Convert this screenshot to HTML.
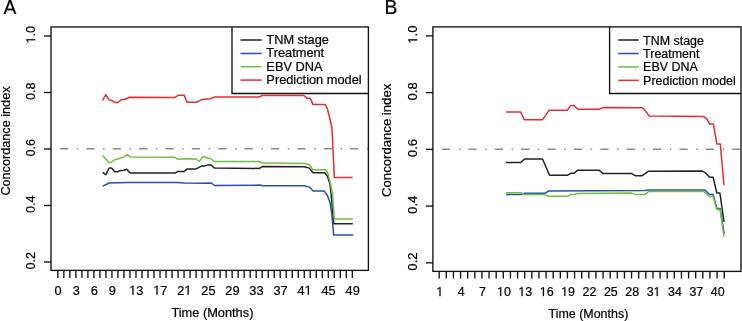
<!DOCTYPE html>
<html><head><meta charset="utf-8"><style>
html,body{margin:0;padding:0;background:#fff;width:742px;height:321px;overflow:hidden}
svg{display:block;will-change:transform}
text{font-family:"Liberation Sans", sans-serif;font-size:13.0px;fill:#000;stroke:#000;stroke-width:0.22px}
path{fill:#000;stroke:#000;stroke-width:0.22px;vector-effect:non-scaling-stroke}
</style></head><body>
<svg width="742" height="321" viewBox="0 0 742 321">
<line x1="59.95" y1="148.8" x2="368.4" y2="148.8" stroke="#8a8a8a" stroke-width="1.5" stroke-dasharray="8.25 8.55 1.45 8.13"/>
<polyline points="102.7,172.4 105.7,174.7 109.2,168.1 111.5,168.1 114.8,171.8 117.3,171.8 120.4,170.6 124.2,170.3 126.9,169.3 130.1,172.9 175.5,172.9 178,171.4 184.2,171.4 187.3,168.9 196.2,168.9 201.8,165.9 204.9,165.9 208,164.9 211.2,164.9 214.3,168.1 259.3,168.4 262.4,166.6 304.4,166.8 309.3,168.1 313.1,172.8 324.9,172.8 327.4,176.2 329.9,183.7 331.2,195 333.7,223.8 352.8,223.8" fill="none" stroke="#222222" stroke-width="1.5" stroke-linejoin="round"/>
<polyline points="102.7,186.1 109.2,183 127.9,182.4 176.1,182.6 184.8,183 202.5,183.3 211.2,183 214.5,185.5 260,185.1 262.4,185.7 304.4,185.7 309.3,187.1 313.1,191.1 324.3,191.1 327.1,195 330,202.4 331.8,213.6 333.7,235.1 353.3,235.1" fill="none" stroke="#2552a8" stroke-width="1.5" stroke-linejoin="round"/>
<polyline points="102.7,155.6 108.6,162.5 111.1,162.5 114.8,159.7 117.3,159.3 120.4,157.9 124.2,156.9 127.3,154.4 130.1,157.1 174.85,157.3 178,159.3 187.3,158.7 196.2,159 199.3,161.5 202.5,156.8 204.9,156.8 208,158.5 210.5,158.5 214.3,161.5 258.7,161.5 262.4,163.1 305,163.5 309.3,164.7 313.1,169.7 325.5,169.7 328,173.7 330.5,183.7 332.6,195 334.3,219 352.8,219" fill="none" stroke="#70be44" stroke-width="1.5" stroke-linejoin="round"/>
<polyline points="102.5,100.5 105.8,94.6 109,99.9 111.7,100.3 115,102.4 118.2,102.4 121.4,99.7 124.1,99.5 130,97.25 174.9,97.4 178.3,95.35 184.2,95.35 187.1,102.3 196.4,102.25 201.8,99.6 210.4,98.8 214.5,96.9 259.2,96.9 262.25,95.5 303.8,95.5 307,98.15 310.2,98.15 313.1,104.6 325.2,104.5 327.5,109.2 330,119.2 331.8,126.7 332.5,138 334.3,177.4 352.7,177.4" fill="none" stroke="#e32d36" stroke-width="1.5" stroke-linejoin="round"/>
<rect x="51" y="26.95" width="317.4" height="243.45" fill="none" stroke="#111" stroke-width="1.35"/>
<polyline points="232,26.95 232,93.45 368.4,93.45" fill="none" stroke="#111" stroke-width="1.35"/>
<line x1="240.5" y1="40" x2="261.7" y2="40" stroke="#222222" stroke-width="1.5"/>
<text transform="translate(266.35,44) scale(0.985,1)">TNM stage</text>
<line x1="240.5" y1="53.45" x2="261.7" y2="53.45" stroke="#2552a8" stroke-width="1.5"/>
<text transform="translate(266.35,57.45) scale(0.985,1)">Treatment</text>
<line x1="240.5" y1="66.7" x2="261.7" y2="66.7" stroke="#70be44" stroke-width="1.5"/>
<text transform="translate(266.35,70.7) scale(0.985,1)">EBV DNA</text>
<line x1="240.5" y1="80.1" x2="261.7" y2="80.1" stroke="#e32d36" stroke-width="1.5"/>
<text transform="translate(266.35,84.1) scale(0.985,1)">Prediction model</text>
<line x1="44" y1="262" x2="51" y2="262" stroke="#111" stroke-width="1.35"/>
<text transform="translate(35.25,260.7) rotate(-90) scale(0.975,1)" text-anchor="middle">0.2</text>
<line x1="44" y1="205.5" x2="51" y2="205.5" stroke="#111" stroke-width="1.35"/>
<text transform="translate(35.25,204.2) rotate(-90) scale(0.975,1)" text-anchor="middle">0.4</text>
<line x1="44" y1="149" x2="51" y2="149" stroke="#111" stroke-width="1.35"/>
<text transform="translate(35.25,147.7) rotate(-90) scale(0.975,1)" text-anchor="middle">0.6</text>
<line x1="44" y1="92.5" x2="51" y2="92.5" stroke="#111" stroke-width="1.35"/>
<text transform="translate(35.25,91.2) rotate(-90) scale(0.975,1)" text-anchor="middle">0.8</text>
<line x1="44" y1="36" x2="51" y2="36" stroke="#111" stroke-width="1.35"/>
<g transform="translate(35.25,34.7) rotate(-90) scale(0.975,1)"><text text-anchor="middle"> .0</text><path transform="translate(-9.04,0) scale(0.006348,-0.006348)" d="M515,0L515,1237L197,1010L197,1180L530,1409L696,1409L696,0Z"/></g>
<line x1="57.85" y1="270.4" x2="57.85" y2="278" stroke="#111" stroke-width="1.35"/>
<line x1="63.86" y1="270.4" x2="63.86" y2="278" stroke="#111" stroke-width="1.35"/>
<line x1="69.87" y1="270.4" x2="69.87" y2="278" stroke="#111" stroke-width="1.35"/>
<line x1="75.88" y1="270.4" x2="75.88" y2="278" stroke="#111" stroke-width="1.35"/>
<line x1="81.89" y1="270.4" x2="81.89" y2="278" stroke="#111" stroke-width="1.35"/>
<line x1="87.9" y1="270.4" x2="87.9" y2="278" stroke="#111" stroke-width="1.35"/>
<line x1="93.91" y1="270.4" x2="93.91" y2="278" stroke="#111" stroke-width="1.35"/>
<line x1="99.92" y1="270.4" x2="99.92" y2="278" stroke="#111" stroke-width="1.35"/>
<line x1="105.93" y1="270.4" x2="105.93" y2="278" stroke="#111" stroke-width="1.35"/>
<line x1="111.94" y1="270.4" x2="111.94" y2="278" stroke="#111" stroke-width="1.35"/>
<line x1="117.95" y1="270.4" x2="117.95" y2="278" stroke="#111" stroke-width="1.35"/>
<line x1="123.96" y1="270.4" x2="123.96" y2="278" stroke="#111" stroke-width="1.35"/>
<line x1="129.97" y1="270.4" x2="129.97" y2="278" stroke="#111" stroke-width="1.35"/>
<line x1="135.98" y1="270.4" x2="135.98" y2="278" stroke="#111" stroke-width="1.35"/>
<line x1="141.99" y1="270.4" x2="141.99" y2="278" stroke="#111" stroke-width="1.35"/>
<line x1="148" y1="270.4" x2="148" y2="278" stroke="#111" stroke-width="1.35"/>
<line x1="154.01" y1="270.4" x2="154.01" y2="278" stroke="#111" stroke-width="1.35"/>
<line x1="160.02" y1="270.4" x2="160.02" y2="278" stroke="#111" stroke-width="1.35"/>
<line x1="166.03" y1="270.4" x2="166.03" y2="278" stroke="#111" stroke-width="1.35"/>
<line x1="172.04" y1="270.4" x2="172.04" y2="278" stroke="#111" stroke-width="1.35"/>
<line x1="178.05" y1="270.4" x2="178.05" y2="278" stroke="#111" stroke-width="1.35"/>
<line x1="184.06" y1="270.4" x2="184.06" y2="278" stroke="#111" stroke-width="1.35"/>
<line x1="190.07" y1="270.4" x2="190.07" y2="278" stroke="#111" stroke-width="1.35"/>
<line x1="196.08" y1="270.4" x2="196.08" y2="278" stroke="#111" stroke-width="1.35"/>
<line x1="202.09" y1="270.4" x2="202.09" y2="278" stroke="#111" stroke-width="1.35"/>
<line x1="208.1" y1="270.4" x2="208.1" y2="278" stroke="#111" stroke-width="1.35"/>
<line x1="214.11" y1="270.4" x2="214.11" y2="278" stroke="#111" stroke-width="1.35"/>
<line x1="220.12" y1="270.4" x2="220.12" y2="278" stroke="#111" stroke-width="1.35"/>
<line x1="226.13" y1="270.4" x2="226.13" y2="278" stroke="#111" stroke-width="1.35"/>
<line x1="232.14" y1="270.4" x2="232.14" y2="278" stroke="#111" stroke-width="1.35"/>
<line x1="238.15" y1="270.4" x2="238.15" y2="278" stroke="#111" stroke-width="1.35"/>
<line x1="244.16" y1="270.4" x2="244.16" y2="278" stroke="#111" stroke-width="1.35"/>
<line x1="250.17" y1="270.4" x2="250.17" y2="278" stroke="#111" stroke-width="1.35"/>
<line x1="256.18" y1="270.4" x2="256.18" y2="278" stroke="#111" stroke-width="1.35"/>
<line x1="262.19" y1="270.4" x2="262.19" y2="278" stroke="#111" stroke-width="1.35"/>
<line x1="268.2" y1="270.4" x2="268.2" y2="278" stroke="#111" stroke-width="1.35"/>
<line x1="274.21" y1="270.4" x2="274.21" y2="278" stroke="#111" stroke-width="1.35"/>
<line x1="280.22" y1="270.4" x2="280.22" y2="278" stroke="#111" stroke-width="1.35"/>
<line x1="286.23" y1="270.4" x2="286.23" y2="278" stroke="#111" stroke-width="1.35"/>
<line x1="292.24" y1="270.4" x2="292.24" y2="278" stroke="#111" stroke-width="1.35"/>
<line x1="298.25" y1="270.4" x2="298.25" y2="278" stroke="#111" stroke-width="1.35"/>
<line x1="304.26" y1="270.4" x2="304.26" y2="278" stroke="#111" stroke-width="1.35"/>
<line x1="310.27" y1="270.4" x2="310.27" y2="278" stroke="#111" stroke-width="1.35"/>
<line x1="316.28" y1="270.4" x2="316.28" y2="278" stroke="#111" stroke-width="1.35"/>
<line x1="322.29" y1="270.4" x2="322.29" y2="278" stroke="#111" stroke-width="1.35"/>
<line x1="328.3" y1="270.4" x2="328.3" y2="278" stroke="#111" stroke-width="1.35"/>
<line x1="334.31" y1="270.4" x2="334.31" y2="278" stroke="#111" stroke-width="1.35"/>
<line x1="340.32" y1="270.4" x2="340.32" y2="278" stroke="#111" stroke-width="1.35"/>
<line x1="346.33" y1="270.4" x2="346.33" y2="278" stroke="#111" stroke-width="1.35"/>
<line x1="352.34" y1="270.4" x2="352.34" y2="278" stroke="#111" stroke-width="1.35"/>
<text transform="translate(58.15,294.7) scale(0.985,1)" text-anchor="middle">0</text>
<text transform="translate(76.18,294.7) scale(0.985,1)" text-anchor="middle">3</text>
<text transform="translate(94.21,294.7) scale(0.985,1)" text-anchor="middle">6</text>
<text transform="translate(112.24,294.7) scale(0.985,1)" text-anchor="middle">9</text>
<g transform="translate(136.28,294.7) scale(0.985,1)"><text text-anchor="middle"> 3</text><path transform="translate(-7.23,0) scale(0.006348,-0.006348)" d="M515,0L515,1237L197,1010L197,1180L530,1409L696,1409L696,0Z"/></g>
<g transform="translate(160.32,294.7) scale(0.985,1)"><text text-anchor="middle"> 7</text><path transform="translate(-7.23,0) scale(0.006348,-0.006348)" d="M515,0L515,1237L197,1010L197,1180L530,1409L696,1409L696,0Z"/></g>
<g transform="translate(184.36,294.7) scale(0.985,1)"><text text-anchor="middle">2 </text><path transform="translate(0,0) scale(0.006348,-0.006348)" d="M515,0L515,1237L197,1010L197,1180L530,1409L696,1409L696,0Z"/></g>
<text transform="translate(208.4,294.7) scale(0.985,1)" text-anchor="middle">25</text>
<text transform="translate(232.44,294.7) scale(0.985,1)" text-anchor="middle">29</text>
<text transform="translate(256.48,294.7) scale(0.985,1)" text-anchor="middle">33</text>
<text transform="translate(280.52,294.7) scale(0.985,1)" text-anchor="middle">37</text>
<g transform="translate(304.56,294.7) scale(0.985,1)"><text text-anchor="middle">4 </text><path transform="translate(0,0) scale(0.006348,-0.006348)" d="M515,0L515,1237L197,1010L197,1180L530,1409L696,1409L696,0Z"/></g>
<text transform="translate(328.6,294.7) scale(0.985,1)" text-anchor="middle">45</text>
<text transform="translate(352.64,294.7) scale(0.985,1)" text-anchor="middle">49</text>
<text transform="translate(212.4,316.5) scale(0.985,1)" text-anchor="middle">Time (Months)</text>
<text transform="translate(9.6,141.05) rotate(-90) scale(0.975,1)" text-anchor="middle">Concordance index</text>
<text transform="translate(3.5,14) scale(1,1)" style="font-size:19.3px">A</text>
<line x1="442" y1="149.3" x2="741" y2="149.3" stroke="#8a8a8a" stroke-width="1.5" stroke-dasharray="8.25 8.55 1.45 8.13"/>
<polyline points="505.8,162.5 520.7,162.5 524.6,159 542.5,159 549.5,175.2 567.3,175.3 570.7,173.3 573.9,173.3 577.7,170.2 599.2,170.2 603,173.6 631.7,173.6 635.2,175.7 642.3,175.7 648.6,171.2 702.5,171 705.6,173.1 709.7,177.2 713.1,177.2 716.8,193 719.9,193 724,221.9" fill="none" stroke="#222222" stroke-width="1.5" stroke-linejoin="round"/>
<polyline points="505.8,194.4 521.4,194.4 524,193.35 544.9,193.35 548.9,191 644,190.4 650,189.9 705.1,189.9 709.3,194.6 713.1,194.6 716.8,208.4 720.1,208.4 724.2,233.9" fill="none" stroke="#2552a8" stroke-width="1.5" stroke-linejoin="round"/>
<polyline points="505.8,192.8 521.4,192.8 524,194.4 542.8,194.4 548.5,196.3 567.6,196.3 570.7,194.4 573.9,194.4 577.7,193.4 631.7,193.1 635.2,194.4 645,194.4 648.6,191.6 704.2,191.6 709.3,196.5 713.1,196.5 716.8,209.6 720.1,209.6 724,236.6" fill="none" stroke="#70be44" stroke-width="1.5" stroke-linejoin="round"/>
<polyline points="505.8,111.9 520.5,111.9 524.3,119.7 542.4,119.7 545.5,115.6 549.2,110.2 567.3,110.2 570.6,105.6 574,105.6 578.1,109.3 599.3,109.3 603,107.5 641.9,107.7 644.2,109.3 649.3,116.1 703.1,116.5 706.2,118.2 709.7,124 713.4,124 716.8,143.9 720.3,143.9 724,185.2" fill="none" stroke="#e32d36" stroke-width="1.5" stroke-linejoin="round"/>
<rect x="432.9" y="26.9" width="308.1" height="244.5" fill="none" stroke="#111" stroke-width="1.35"/>
<polyline points="609.6,26.9 609.6,93.45 741,93.45" fill="none" stroke="#111" stroke-width="1.35"/>
<line x1="618.1" y1="40" x2="638.8" y2="40" stroke="#222222" stroke-width="1.5"/>
<text transform="translate(643.1,44.5) scale(0.958,1)">TNM stage</text>
<line x1="618.1" y1="53.5" x2="638.8" y2="53.5" stroke="#2552a8" stroke-width="1.5"/>
<text transform="translate(643.1,58) scale(0.958,1)">Treatment</text>
<line x1="618.1" y1="66.9" x2="638.8" y2="66.9" stroke="#70be44" stroke-width="1.5"/>
<text transform="translate(643.1,71.4) scale(0.958,1)">EBV DNA</text>
<line x1="618.1" y1="80.35" x2="638.8" y2="80.35" stroke="#e32d36" stroke-width="1.5"/>
<text transform="translate(643.1,84.85) scale(0.958,1)">Prediction model</text>
<line x1="426" y1="262.8" x2="432.9" y2="262.8" stroke="#111" stroke-width="1.35"/>
<text transform="translate(417.2,261.5) rotate(-90) scale(1.012,1)" text-anchor="middle">0.2</text>
<line x1="426" y1="206.08" x2="432.9" y2="206.08" stroke="#111" stroke-width="1.35"/>
<text transform="translate(417.2,204.78) rotate(-90) scale(1.012,1)" text-anchor="middle">0.4</text>
<line x1="426" y1="149.35" x2="432.9" y2="149.35" stroke="#111" stroke-width="1.35"/>
<text transform="translate(417.2,148.05) rotate(-90) scale(1.012,1)" text-anchor="middle">0.6</text>
<line x1="426" y1="92.62" x2="432.9" y2="92.62" stroke="#111" stroke-width="1.35"/>
<text transform="translate(417.2,91.33) rotate(-90) scale(1.012,1)" text-anchor="middle">0.8</text>
<line x1="426" y1="35.9" x2="432.9" y2="35.9" stroke="#111" stroke-width="1.35"/>
<g transform="translate(417.2,34.6) rotate(-90) scale(1.012,1)"><text text-anchor="middle"> .0</text><path transform="translate(-9.04,0) scale(0.006348,-0.006348)" d="M515,0L515,1237L197,1010L197,1180L530,1409L696,1409L696,0Z"/></g>
<line x1="439.2" y1="271.4" x2="439.2" y2="278.5" stroke="#111" stroke-width="1.35"/>
<line x1="446.32" y1="271.4" x2="446.32" y2="278.5" stroke="#111" stroke-width="1.35"/>
<line x1="453.45" y1="271.4" x2="453.45" y2="278.5" stroke="#111" stroke-width="1.35"/>
<line x1="460.57" y1="271.4" x2="460.57" y2="278.5" stroke="#111" stroke-width="1.35"/>
<line x1="467.7" y1="271.4" x2="467.7" y2="278.5" stroke="#111" stroke-width="1.35"/>
<line x1="474.82" y1="271.4" x2="474.82" y2="278.5" stroke="#111" stroke-width="1.35"/>
<line x1="481.95" y1="271.4" x2="481.95" y2="278.5" stroke="#111" stroke-width="1.35"/>
<line x1="489.07" y1="271.4" x2="489.07" y2="278.5" stroke="#111" stroke-width="1.35"/>
<line x1="496.2" y1="271.4" x2="496.2" y2="278.5" stroke="#111" stroke-width="1.35"/>
<line x1="503.32" y1="271.4" x2="503.32" y2="278.5" stroke="#111" stroke-width="1.35"/>
<line x1="510.45" y1="271.4" x2="510.45" y2="278.5" stroke="#111" stroke-width="1.35"/>
<line x1="517.58" y1="271.4" x2="517.58" y2="278.5" stroke="#111" stroke-width="1.35"/>
<line x1="524.7" y1="271.4" x2="524.7" y2="278.5" stroke="#111" stroke-width="1.35"/>
<line x1="531.83" y1="271.4" x2="531.83" y2="278.5" stroke="#111" stroke-width="1.35"/>
<line x1="538.95" y1="271.4" x2="538.95" y2="278.5" stroke="#111" stroke-width="1.35"/>
<line x1="546.08" y1="271.4" x2="546.08" y2="278.5" stroke="#111" stroke-width="1.35"/>
<line x1="553.2" y1="271.4" x2="553.2" y2="278.5" stroke="#111" stroke-width="1.35"/>
<line x1="560.33" y1="271.4" x2="560.33" y2="278.5" stroke="#111" stroke-width="1.35"/>
<line x1="567.45" y1="271.4" x2="567.45" y2="278.5" stroke="#111" stroke-width="1.35"/>
<line x1="574.58" y1="271.4" x2="574.58" y2="278.5" stroke="#111" stroke-width="1.35"/>
<line x1="581.7" y1="271.4" x2="581.7" y2="278.5" stroke="#111" stroke-width="1.35"/>
<line x1="588.83" y1="271.4" x2="588.83" y2="278.5" stroke="#111" stroke-width="1.35"/>
<line x1="595.95" y1="271.4" x2="595.95" y2="278.5" stroke="#111" stroke-width="1.35"/>
<line x1="603.08" y1="271.4" x2="603.08" y2="278.5" stroke="#111" stroke-width="1.35"/>
<line x1="610.2" y1="271.4" x2="610.2" y2="278.5" stroke="#111" stroke-width="1.35"/>
<line x1="617.33" y1="271.4" x2="617.33" y2="278.5" stroke="#111" stroke-width="1.35"/>
<line x1="624.45" y1="271.4" x2="624.45" y2="278.5" stroke="#111" stroke-width="1.35"/>
<line x1="631.58" y1="271.4" x2="631.58" y2="278.5" stroke="#111" stroke-width="1.35"/>
<line x1="638.7" y1="271.4" x2="638.7" y2="278.5" stroke="#111" stroke-width="1.35"/>
<line x1="645.83" y1="271.4" x2="645.83" y2="278.5" stroke="#111" stroke-width="1.35"/>
<line x1="652.95" y1="271.4" x2="652.95" y2="278.5" stroke="#111" stroke-width="1.35"/>
<line x1="660.08" y1="271.4" x2="660.08" y2="278.5" stroke="#111" stroke-width="1.35"/>
<line x1="667.2" y1="271.4" x2="667.2" y2="278.5" stroke="#111" stroke-width="1.35"/>
<line x1="674.33" y1="271.4" x2="674.33" y2="278.5" stroke="#111" stroke-width="1.35"/>
<line x1="681.45" y1="271.4" x2="681.45" y2="278.5" stroke="#111" stroke-width="1.35"/>
<line x1="688.58" y1="271.4" x2="688.58" y2="278.5" stroke="#111" stroke-width="1.35"/>
<line x1="695.7" y1="271.4" x2="695.7" y2="278.5" stroke="#111" stroke-width="1.35"/>
<line x1="702.83" y1="271.4" x2="702.83" y2="278.5" stroke="#111" stroke-width="1.35"/>
<line x1="709.95" y1="271.4" x2="709.95" y2="278.5" stroke="#111" stroke-width="1.35"/>
<line x1="717.08" y1="271.4" x2="717.08" y2="278.5" stroke="#111" stroke-width="1.35"/>
<line x1="724.2" y1="271.4" x2="724.2" y2="278.5" stroke="#111" stroke-width="1.35"/>
<g transform="translate(439.8,296.1) scale(0.958,1)"><text text-anchor="middle"> </text><path transform="translate(-3.61,0) scale(0.006348,-0.006348)" d="M515,0L515,1237L197,1010L197,1180L530,1409L696,1409L696,0Z"/></g>
<text transform="translate(461.18,296.1) scale(0.958,1)" text-anchor="middle">4</text>
<text transform="translate(482.55,296.1) scale(0.958,1)" text-anchor="middle">7</text>
<g transform="translate(503.93,296.1) scale(0.958,1)"><text text-anchor="middle"> 0</text><path transform="translate(-7.23,0) scale(0.006348,-0.006348)" d="M515,0L515,1237L197,1010L197,1180L530,1409L696,1409L696,0Z"/></g>
<g transform="translate(525.3,296.1) scale(0.958,1)"><text text-anchor="middle"> 3</text><path transform="translate(-7.23,0) scale(0.006348,-0.006348)" d="M515,0L515,1237L197,1010L197,1180L530,1409L696,1409L696,0Z"/></g>
<g transform="translate(546.68,296.1) scale(0.958,1)"><text text-anchor="middle"> 6</text><path transform="translate(-7.23,0) scale(0.006348,-0.006348)" d="M515,0L515,1237L197,1010L197,1180L530,1409L696,1409L696,0Z"/></g>
<g transform="translate(568.05,296.1) scale(0.958,1)"><text text-anchor="middle"> 9</text><path transform="translate(-7.23,0) scale(0.006348,-0.006348)" d="M515,0L515,1237L197,1010L197,1180L530,1409L696,1409L696,0Z"/></g>
<text transform="translate(589.43,296.1) scale(0.958,1)" text-anchor="middle">22</text>
<text transform="translate(610.8,296.1) scale(0.958,1)" text-anchor="middle">25</text>
<text transform="translate(632.18,296.1) scale(0.958,1)" text-anchor="middle">28</text>
<g transform="translate(653.55,296.1) scale(0.958,1)"><text text-anchor="middle">3 </text><path transform="translate(0,0) scale(0.006348,-0.006348)" d="M515,0L515,1237L197,1010L197,1180L530,1409L696,1409L696,0Z"/></g>
<text transform="translate(674.93,296.1) scale(0.958,1)" text-anchor="middle">34</text>
<text transform="translate(696.3,296.1) scale(0.958,1)" text-anchor="middle">37</text>
<text transform="translate(717.68,296.1) scale(0.958,1)" text-anchor="middle">40</text>
<text transform="translate(588.4,318) scale(0.958,1)" text-anchor="middle">Time (Months)</text>
<text transform="translate(391.4,140.35) rotate(-90) scale(1.012,1)" text-anchor="middle">Concordance index</text>
<text transform="translate(384.6,14) scale(1,1)" style="font-size:19.3px">B</text>
</svg>
</body></html>
